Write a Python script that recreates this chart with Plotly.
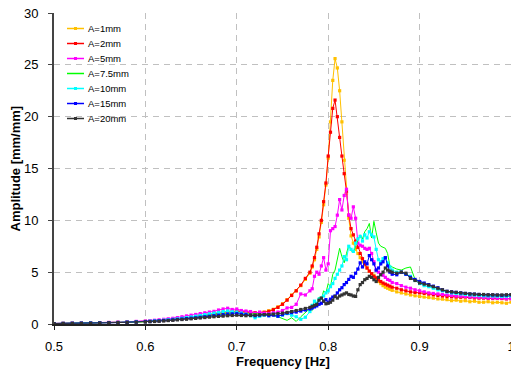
import plotly.graph_objects as go

# Frequency grid [Hz]
freq = [0.50, 0.51, 0.52, 0.53, 0.54, 0.55, 0.56, 0.57, 0.58, 0.59,
        0.600, 0.605, 0.610, 0.615, 0.620, 0.625, 0.630, 0.635, 0.640, 0.645,
        0.650, 0.655, 0.660, 0.665, 0.670, 0.675, 0.680, 0.685, 0.690, 0.695,
        0.700, 0.705, 0.710, 0.715, 0.720, 0.725, 0.730, 0.735, 0.740, 0.745,
        0.750, 0.755, 0.760, 0.765, 0.770, 0.775,
        0.7800, 0.7825, 0.7850, 0.7875, 0.7900, 0.7925, 0.7950, 0.7975, 0.8000, 0.8025,
        0.8050, 0.8075, 0.8100, 0.8125, 0.8150, 0.8175, 0.8200, 0.8225, 0.8250, 0.8275,
        0.8300, 0.8325, 0.8350, 0.8375, 0.8400, 0.8425, 0.8450, 0.8475, 0.8500, 0.8525,
        0.8550, 0.8575, 0.8600, 0.8625, 0.8650, 0.8675,
        0.870, 0.875, 0.880, 0.885, 0.890, 0.895, 0.900, 0.905, 0.910, 0.915,
        0.920, 0.925, 0.930, 0.935, 0.940, 0.945, 0.950, 0.955, 0.960, 0.965,
        0.970, 0.975, 0.980, 0.985, 0.990, 0.995, 1.000]

amp_1mm = [0.04, 0.05, 0.06, 0.07, 0.09, 0.10, 0.12, 0.14, 0.16, 0.19,
           0.22, 0.25, 0.28, 0.30, 0.33, 0.37, 0.40, 0.45, 0.50, 0.55,
           0.60, 0.66, 0.72, 0.80, 0.88, 0.95, 1.00, 1.05, 1.08, 1.12,
           1.15, 1.12, 1.08, 1.05, 1.05, 1.08, 1.15, 1.28, 1.42, 1.65,
           1.95, 2.35, 2.80, 3.20, 3.70, 4.30,
           4.9, 5.5, 6.2, 7.2, 8.4, 9.8, 11.5, 13.4, 16.0, 19.5,
           23.5, 25.6, 24.7, 22.5, 19.5, 15.8, 12.6, 10.2, 8.5, 7.8,
           7.2, 6.8, 6.4, 6.0, 5.7, 5.4, 5.1, 4.85, 4.7, 4.4,
           4.1, 3.9, 3.7, 3.55, 3.45, 3.35,
           3.25, 3.1, 3.0, 2.9, 2.8, 2.72, 2.65, 2.6, 2.55, 2.5,
           2.42, 2.4, 2.35, 2.25, 2.3, 2.2, 2.25, 2.15, 2.2, 2.1,
           2.1, 2.15, 2.05, 2.1, 2.05, 2.0, 2.1]

amp_2mm = [0.05, 0.06, 0.07, 0.09, 0.10, 0.12, 0.14, 0.16, 0.19, 0.22,
           0.26, 0.28, 0.30, 0.33, 0.36, 0.40, 0.44, 0.48, 0.53, 0.58,
           0.64, 0.70, 0.78, 0.85, 0.93, 1.00, 1.06, 1.12, 1.18, 1.22,
           1.25, 1.20, 1.15, 1.12, 1.10, 1.08, 1.12, 1.22, 1.38, 1.60,
           1.90, 2.30, 2.75, 3.20, 3.75, 4.40,
           5.0, 5.6, 6.4, 7.4, 8.7, 10.0, 11.8, 13.6, 16.2, 18.5,
           20.8, 21.6, 20.0, 18.0, 16.2, 14.5, 12.8, 10.5, 9.2, 8.6,
           8.0, 7.4, 6.8, 6.3, 5.8, 5.4, 5.1, 4.85, 4.6, 4.45,
           4.25, 4.1, 3.95, 3.85, 3.75, 3.65,
           3.55, 3.45, 3.3, 3.2, 3.1, 3.05, 3.0, 2.95, 2.88, 2.82,
           2.75, 2.7, 2.65, 2.62, 2.6, 2.58, 2.6, 2.55, 2.52, 2.5,
           2.5, 2.48, 2.45, 2.47, 2.45, 2.42, 2.45]

amp_5mm = [0.05, 0.06, 0.08, 0.09, 0.11, 0.13, 0.15, 0.18, 0.21, 0.25,
           0.28, 0.32, 0.36, 0.40, 0.45, 0.50, 0.55, 0.62, 0.70, 0.78,
           0.85, 0.92, 1.00, 1.08, 1.15, 1.22, 1.35, 1.45, 1.52, 1.40,
           1.45, 1.30, 1.25, 1.20, 1.05, 1.15, 1.05, 1.00, 1.10, 1.15,
           1.30, 1.55, 1.60, 1.90, 2.90, 2.80,
           3.2, 3.4, 4.6, 5.0, 4.8, 5.6, 6.4, 5.2, 5.8, 9.0,
           9.2, 9.4, 10.5, 12.0, 11.0, 12.4, 13.0, 10.5, 10.2, 11.3,
           10.2, 7.8, 7.6, 7.5, 7.3, 7.2, 7.3, 6.8, 6.0, 5.2,
           5.0, 4.8, 4.7, 4.5, 4.3, 4.2,
           4.0, 3.9, 3.7, 3.55, 3.45, 3.3, 3.2, 3.1, 3.0, 2.95,
           2.9, 2.85, 2.8, 2.75, 2.7, 2.68, 2.65, 2.6, 2.6, 2.55,
           2.55, 2.5, 2.5, 2.48, 2.5, 2.45, 2.45]

amp_7_5mm = [0.04, 0.05, 0.06, 0.07, 0.08, 0.10, 0.12, 0.14, 0.16, 0.19,
             0.22, 0.25, 0.28, 0.31, 0.34, 0.37, 0.40, 0.45, 0.50, 0.55,
             0.60, 0.65, 0.72, 0.80, 0.85, 0.90, 0.95, 1.00, 1.05, 1.10,
             1.12, 1.05, 1.00, 0.95, 1.00, 0.95, 0.90, 1.00, 0.80, 0.70,
             0.55, 0.35, 0.60, 0.25, 0.70, 1.10,
             1.5, 1.3, 2.3, 2.0, 2.6, 2.4, 3.2, 3.0, 3.9, 3.6,
             4.8, 5.2, 6.2, 7.3, 6.5, 5.9, 6.8, 7.6, 7.1, 6.85,
             7.5, 8.0, 8.6, 8.2, 8.9, 9.2, 9.7, 8.3, 9.9, 8.8,
             7.8, 7.5, 7.4, 7.3, 6.8, 5.6,
             5.5, 5.3, 5.2, 5.4, 5.5, 4.3, 4.1, 3.9, 3.75, 3.6,
             3.4, 3.2, 3.1, 3.0, 2.95, 2.9, 2.85, 2.8, 2.78, 2.75,
             2.72, 2.7, 2.7, 2.68, 2.66, 2.65, 2.65]

amp_10mm = [0.05, 0.06, 0.07, 0.08, 0.10, 0.11, 0.13, 0.15, 0.18, 0.21,
            0.24, 0.27, 0.30, 0.33, 0.37, 0.41, 0.45, 0.50, 0.55, 0.62,
            0.68, 0.75, 0.82, 0.90, 0.98, 1.05, 1.12, 1.20, 1.25, 1.18,
            1.15, 1.05, 0.95, 0.80, 0.60, 0.75, 0.85, 0.80, 0.95, 0.75,
            0.85, 1.00, 0.85, 0.70, 0.45, 0.65,
            1.2, 1.8, 2.2, 2.0, 2.4, 2.5, 2.7, 3.0, 3.2, 3.6,
            3.9, 4.4, 4.8, 5.2, 5.6, 6.5, 6.2, 7.5, 7.2, 7.0,
            7.8, 8.2, 8.45, 8.0, 8.6, 8.3, 8.9, 8.6, 8.4, 7.2,
            6.2, 6.0, 6.3, 6.4, 5.9, 5.5,
            5.2, 5.0, 5.0, 4.8, 4.6, 4.2, 3.9, 3.7, 3.6, 3.45,
            3.3, 3.2, 3.1, 3.0, 2.95, 2.9, 2.85, 2.8, 2.78, 2.75,
            2.72, 2.7, 2.7, 2.68, 2.66, 2.68, 2.7]

amp_15mm = [0.05, 0.05, 0.06, 0.07, 0.08, 0.10, 0.12, 0.14, 0.16, 0.19,
            0.22, 0.24, 0.27, 0.30, 0.33, 0.36, 0.40, 0.44, 0.48, 0.52,
            0.56, 0.60, 0.65, 0.70, 0.75, 0.80, 0.85, 0.90, 0.95, 0.98,
            1.00, 0.95, 0.90, 0.85, 0.80, 0.85, 0.90, 0.80, 0.85, 0.75,
            0.90, 1.05, 1.10, 1.15, 1.25, 1.35,
            1.45, 1.55, 1.65, 1.75, 1.90, 2.0, 2.2, 2.35, 2.1, 2.4,
            2.6, 2.7, 3.0, 3.3, 3.5, 3.8, 4.0, 4.3, 4.6, 4.5,
            4.9, 5.3, 5.9, 5.5, 6.0, 5.8, 6.6, 6.2, 5.8, 5.2,
            5.4, 5.8, 6.0, 6.4, 5.6, 5.0,
            4.8, 4.75, 5.0, 4.8, 4.5, 4.3, 4.1, 3.95, 3.8, 3.65,
            3.5, 3.3, 3.15, 3.1, 3.05, 3.0, 2.95, 2.9, 2.88, 2.85,
            2.82, 2.8, 2.8, 2.78, 2.76, 2.78, 2.8]

amp_20mm = [0.05, 0.05, 0.06, 0.07, 0.08, 0.10, 0.12, 0.14, 0.16, 0.18,
            0.20, 0.22, 0.24, 0.27, 0.30, 0.33, 0.36, 0.40, 0.43, 0.46,
            0.50, 0.54, 0.58, 0.62, 0.66, 0.70, 0.73, 0.76, 0.80, 0.82,
            0.85, 0.82, 0.80, 0.82, 0.85, 0.88, 0.90, 0.92, 0.95, 1.00,
            1.05, 1.12, 1.20, 1.30, 1.40, 1.50,
            1.6, 1.7, 1.8, 1.9, 2.3, 2.5, 2.2, 1.95, 2.0, 2.1,
            2.3, 2.66, 2.5, 2.7, 2.8, 2.9, 3.0, 2.85, 2.8, 2.7,
            2.66, 3.3, 3.8, 4.0, 4.27, 4.4, 4.6, 4.5, 4.27, 4.1,
            4.5, 4.75, 5.0, 5.4, 5.2, 5.1,
            5.0, 4.9, 5.0, 4.9, 4.4, 4.2, 3.95, 3.85, 3.75, 3.6,
            3.45, 3.3, 3.15, 3.1, 3.05, 3.0, 2.95, 2.9, 2.88, 2.85,
            2.85, 2.82, 2.82, 2.8, 2.8, 2.82, 2.83]

series_names = ["A=1mm", "A=2mm", "A=5mm", "A=7.5mm", "A=10mm", "A=15mm", "A=20mm"]
series_values = [amp_1mm, amp_2mm, amp_5mm, amp_7_5mm, amp_10mm, amp_15mm, amp_20mm]
series_colors = ["#FFC000", "#FF0000", "#FF00FF", "#00FF00", "#00FFFF", "#0000FF", "#333333"]
series_markers = [True, True, True, False, True, True, True]

x_ticks = [0.5, 0.6, 0.7, 0.8, 0.9, 1.0]
x_ticklabels = ["0.5", "0.6", "0.7", "0.8", "0.9", "1"]
y_ticks = [0, 5, 10, 15, 20, 25, 30]

FONT = "Liberation Sans, Arial, sans-serif"
W, H = 511, 370
ML, MR, MT, MB = 54, 0, 13, 46

fig = go.Figure()
for name, vals, col, mk in zip(series_names, series_values, series_colors, series_markers):
    fig.add_trace(go.Scatter(
        x=freq, y=vals, name=name,
        mode="lines+markers" if mk else "lines",
        line=dict(color=col, width=1),
        marker=dict(color=col, size=3.2, symbol="square", line=dict(width=0)),
        showlegend=False,
    ))

# Manual compact legend (pixel layout converted to paper coords)
pw, ph = W - ML - MR, H - MT - MB
def px(x):
    return (x - ML) / pw
def py(y):
    return (H - MB - y) / ph

for k, (name, col, mk) in enumerate(zip(series_names, series_colors, series_markers)):
    yc = 28.5 + 15 * k
    fig.add_shape(type="line", xref="paper", yref="paper",
                  x0=px(67), x1=px(84), y0=py(yc), y1=py(yc),
                  line=dict(color=col, width=1.5))
    if mk:
        fig.add_shape(type="rect", xref="paper", yref="paper",
                      x0=px(74), x1=px(77), y0=py(yc + 1.5), y1=py(yc - 1.5),
                      line=dict(width=0), fillcolor=col)
    fig.add_annotation(x=px(86), y=py(yc), xref="paper", yref="paper",
                       text=name, showarrow=False, xanchor="left", yanchor="middle",
                       font=dict(family=FONT, size=9.5, color="#000000"))

# Axis titles
fig.add_annotation(x=0.5, y=py(361), xref="paper", yref="paper",
                   text="<b>Frequency [Hz]</b>", showarrow=False,
                   xanchor="center", yanchor="middle",
                   font=dict(family=FONT, size=13, color="#000000"))
fig.add_annotation(x=px(15), y=0.5, xref="paper", yref="paper",
                   text="<b>Amplitude [mm/mm]</b>", showarrow=False, textangle=-90,
                   xanchor="center", yanchor="middle",
                   font=dict(family=FONT, size=13, color="#000000"))

fig.update_layout(
    width=W, height=H,
    margin=dict(l=ML, r=MR, t=MT, b=MB, autoexpand=False),
    plot_bgcolor="white", paper_bgcolor="white",
    font=dict(family=FONT, size=13, color="#000000"),
    showlegend=False,
)
fig.update_xaxes(
    range=[0.5, 1.0], tickvals=x_ticks, ticktext=x_ticklabels,
    showgrid=True, gridcolor="#c0c0c0", gridwidth=1, griddash="6px,5px",
    showline=True, linecolor="#222222", linewidth=1.5,
    ticks="outside", ticklen=4, tickcolor="#222222", tickwidth=1,
    ticklabelstandoff=6, ticklabeloverflow="allow", zeroline=False, automargin=False,
    tickfont=dict(family=FONT, size=13, color="#000000"),
)
fig.update_yaxes(
    range=[0, 30], tickvals=y_ticks,
    showgrid=True, gridcolor="#c0c0c0", gridwidth=1, griddash="6px,5px",
    showline=True, linecolor="#444444", linewidth=2,
    ticks="outside", ticklen=4, tickcolor="#444444", tickwidth=1,
    ticklabelstandoff=7, zeroline=False, automargin=False,
    tickfont=dict(family=FONT, size=13, color="#000000"),
)

fig.write_html("out.html")
